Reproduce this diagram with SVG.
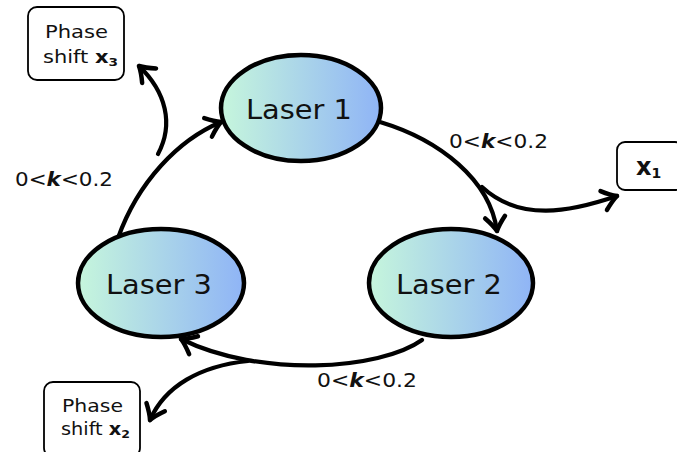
<svg xmlns="http://www.w3.org/2000/svg" width="677" height="452" viewBox="0 0 677 452">
<defs>
<linearGradient id="g" x1="0" y1="0" x2="1" y2="0">
<stop offset="0" stop-color="#c6f6dc"/>
<stop offset="1" stop-color="#8fb4f6"/>
</linearGradient>
<marker id="arr" markerUnits="userSpaceOnUse" markerWidth="30" markerHeight="30" viewBox="-20 -15 30 30" refX="0" refY="0" orient="auto">
<path d="M -14,-10 Q -6,-3 0,0 Q -6,3 -14,10" fill="none" stroke="#000" stroke-width="4.5" stroke-linecap="round" stroke-linejoin="round"/>
</marker>
</defs>
<style>
.node ellipse{fill:url(#g);stroke:#000;stroke-width:4.5}
.lbl{font-family:"DejaVu Sans",sans-serif;font-size:26px;fill:#111;text-anchor:middle}
.box rect{fill:#fff;stroke:#000;stroke-width:1.8}
.bt{font-family:"DejaVu Sans",sans-serif;font-size:17px;fill:#111}
.k{font-family:"DejaVu Sans",sans-serif;font-size:19px;fill:#111}
.conn path{fill:none;stroke:#000;stroke-width:4.2;stroke-linecap:round}
</style>
<rect width="677" height="452" fill="#fff"/>
<g id="connectors" class="conn">
<path d="M 118,238 C 138,182 178,140 221,122" marker-end="url(#arr)"/>
<path d="M 158,154 C 174,124 166,92 139,66" marker-end="url(#arr)"/>
<path d="M 380,122 C 440,140 490,180 497,231" marker-end="url(#arr)"/>
<path d="M 482,187 C 520,222 570,212 617,196" marker-end="url(#arr)"/>
<path d="M 422,340 C 380,370 260,378 181,339" marker-end="url(#arr)"/>
<path d="M 248,361 C 200,366 165,386 150,420" marker-end="url(#arr)"/>
</g>
<g id="laser1" class="node"><ellipse cx="301" cy="108" rx="80" ry="53"/><text class="lbl" x="299" y="119" textLength="106" lengthAdjust="spacingAndGlyphs">Laser 1</text></g>
<g id="laser2" class="node"><ellipse cx="451" cy="283" rx="82" ry="54"/><text class="lbl" x="449" y="294" textLength="106" lengthAdjust="spacingAndGlyphs">Laser 2</text></g>
<g id="laser3" class="node"><ellipse cx="161" cy="283" rx="83" ry="54"/><text class="lbl" x="159" y="294" textLength="106" lengthAdjust="spacingAndGlyphs">Laser 3</text></g>
<g id="box3" class="box"><rect x="28" y="7" width="96" height="73" rx="9"/>
<text class="bt" x="45" y="38" textLength="63" lengthAdjust="spacingAndGlyphs">Phase</text>
<text class="bt" x="43" y="63" textLength="75" lengthAdjust="spacingAndGlyphs">shift <tspan font-weight="bold">x</tspan><tspan font-weight="bold" font-size="11" dy="3">3</tspan></text></g>
<g id="box1" class="box"><rect x="617" y="142" width="66" height="48" rx="8"/>
<text x="636" y="175" font-family="DejaVu Sans,sans-serif" font-size="24" font-weight="bold" fill="#111">x<tspan font-size="14" dy="3">1</tspan></text></g>
<g id="box2" class="box"><rect x="44" y="382" width="96" height="75" rx="9"/>
<text class="bt" x="62" y="412" textLength="61" lengthAdjust="spacingAndGlyphs">Phase</text>
<text class="bt" x="61" y="435" textLength="69" lengthAdjust="spacingAndGlyphs">shift <tspan font-weight="bold">x</tspan><tspan font-weight="bold" font-size="11" dy="3">2</tspan></text></g>
<g id="labels">
<text class="k" x="15" y="186" textLength="98" lengthAdjust="spacingAndGlyphs">0&lt;<tspan font-weight="bold" font-style="italic">k</tspan>&lt;0.2</text>
<text class="k" x="449" y="148" textLength="99" lengthAdjust="spacingAndGlyphs">0&lt;<tspan font-weight="bold" font-style="italic">k</tspan>&lt;0.2</text>
<text class="k" x="317" y="387" textLength="100" lengthAdjust="spacingAndGlyphs">0&lt;<tspan font-weight="bold" font-style="italic">k</tspan>&lt;0.2</text>
</g>
</svg>
